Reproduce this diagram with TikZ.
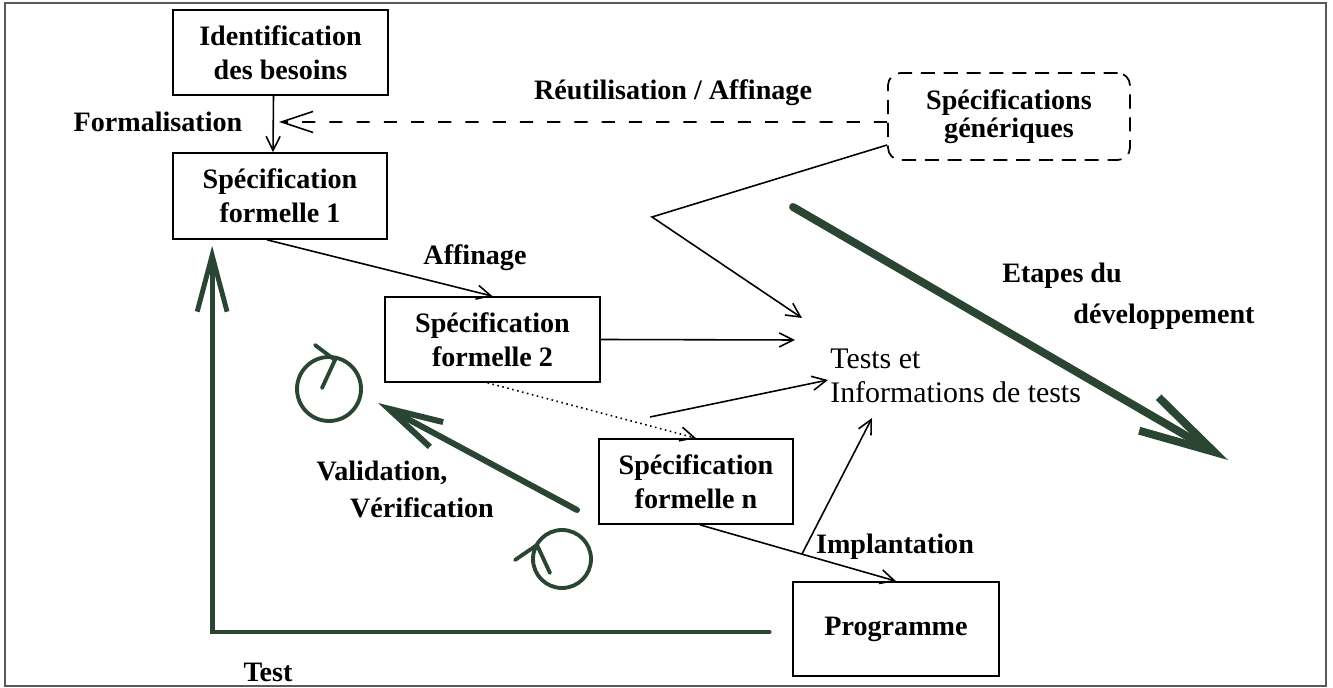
\documentclass[tikz,border=0pt]{standalone}
\usepackage{fontspec}
\setmainfont{Liberation Serif}
\usepackage{xcolor}
\usetikzlibrary{arrows.meta}
\definecolor{vert}{RGB}{42,70,50}
\newcommand\gros[1]{\fontsize{16}{19.5}\selectfont\bfseries #1}

\begin{document}
\begin{tikzpicture}[x=0.02cm,y=-0.02cm,
    boite/.style={draw,line width=1pt,inner sep=0pt,align=center,font=\gros{}},
    etiq/.style={inner sep=0pt,font=\gros{}},
    fl/.style={line width=0.9pt,-{Straight Barb[length=8pt,width=8pt]}},
    epais/.style={vert,line cap=round}]
        \useasboundingbox (0,0) rectangle (1333,688);
        \draw[black!65,line width=1.2pt] (5,3) rectangle (1326,686);

        \coordinate (reprise) at (279,122);
        \coordinate (coude) at (652,217);
        \coordinate (t1) at (802,318);
        \coordinate (t2) at (795,340);
        \coordinate (t3) at (828,380);
        \coordinate (t4) at (872,418);
        \coordinate (depart) at (650,417);

        \coordinate (v0) at (577,510);
        \coordinate (v1) at (378,403);
        \coordinate (e0) at (793,207);
        \coordinate (e1) at (1228,460);

        \node[boite,minimum width=4.3cm,minimum height=1.7cm] (besoins) at (280.5,52.5) {Identification\\des besoins};
        \node[boite,minimum width=4.28cm,minimum height=1.72cm] (spec1) at (280,196) {Spécification\\formelle 1};
        \node[boite,minimum width=4.3cm,minimum height=1.7cm] (spec2) at (492.5,339.5) {Spécification\\formelle 2};
        \node[boite,minimum width=3.88cm,minimum height=1.7cm] (specn) at (696,481.5) {Spécification\\formelle n};
        \node[boite,minimum width=4.12cm,minimum height=1.88cm] (prog) at (896,629) {Programme};
        \node[boite,dash pattern=on 8pt off 5pt,rounded corners=7pt,minimum width=4.84cm,minimum height=1.74cm,
          font=\fontsize{16}{16}\selectfont\bfseries] (gen) at (1009,116.5) {Spécifications\\génériques};

        \node[etiq] (formal) at (158,122) {Formalisation};
        \node[etiq] (reutil) at (673,93) {Réutilisation / Affinage};
        \node[etiq] (affin) at (475,258) {Affinage};
        \node[etiq] (etapes) at (1062,276) {Etapes du};
        \node[etiq] (devel) at (1164,317) {développement};
        \node[etiq] (valid) at (382,473) {Validation,};
        \node[etiq] (verif) at (422,508) {Vérification};
        \node[etiq] (impl) at (895,547) {Implantation};
        \node[etiq] (test) at (268,672) {Test};
        \node[align=left,inner sep=0pt,anchor=west,font=\fontsize{17}{19.5}\selectfont] (tests) at (830,376)
          {Tests et\\Informations de tests};

        \draw[fl] ([xshift=-0.14cm]besoins.south) -- ([xshift=-0.14cm]spec1.north);
        \draw[line width=0.9pt,dash pattern=on 7.5pt off 8pt,-{Straight Barb[length=18pt,width=12pt]}]
          ([yshift=-0.11cm]gen.west) -- (reprise);
        \draw[fl] ([yshift=-0.57cm]gen.west) -- (coude) -- (t1);
        \draw[fl] ([xshift=-0.26cm]spec1.south) -- (spec2.north);
        \draw[fl] (spec2.east) -- (t2);
        \draw[line width=0.9pt,dotted,-{Straight Barb[length=8pt,width=8pt]}] ([xshift=-0.1cm]spec2.south) -- (specn.north);
        \draw[fl] (depart) -- (t3);
        \draw[fl] ([xshift=0.08cm]specn.south) -- coordinate[pos=0.52] (croix) (prog.north);
        \draw[fl] (croix) -- (t4);

        \draw[epais,line width=2.8pt,-{Straight Barb[length=32pt,width=17pt]}]
          ([xshift=-0.46cm,yshift=-0.06cm]prog.west) -| ([xshift=0.8cm,yshift=-0.12cm]spec1.south west);
        \draw[epais,line width=3.4pt,-{Straight Barb[length=31pt,width=16pt]}] (v0) -- (v1);
        \draw[epais,line width=4.5pt,-{Straight Barb[length=43pt,width=22pt]}] (e0) -- (e1);

        \draw[epais,line width=2.2pt] (329,389) circle[radius=0.64cm];
        \draw[epais,line width=2.2pt] (315,345) -- (335,360) -- (322,388);
        \draw[epais,line width=2.2pt] (562,559) circle[radius=0.58cm];
        \draw[epais,line width=2.2pt] (515,560) -- (537,545) -- (550,573);
\end{tikzpicture}
\end{document}
